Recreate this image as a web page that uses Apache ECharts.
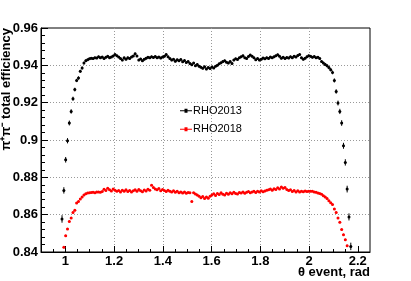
<!DOCTYPE html>
<html><head><meta charset="utf-8">
<script src="https://cdn.jsdelivr.net/npm/echarts@6/dist/echarts.min.js"></script>
<style>html,body{margin:0;padding:0;background:#fff}#c{width:411px;height:281px}</style>
</head><body><div id="c"></div>
<script>
// histogram binning (theta event, rad)
const binLow = 0.9;
const binWidth = 0.0075;

// RHO2013 efficiency, bins 11..169
const rho2013FirstBin = 11;
const rho2013 = [
  0.8577, 0.8730, 0.8894, 0.8996, 0.9091, 0.9153, 0.9221, 0.9270, 0.9319, 0.9332,
  0.9368, 0.9386, 0.9412, 0.9425, 0.9430, 0.9435, 0.9438, 0.9436, 0.9441, 0.9439,
  0.9446, 0.9440, 0.9444, 0.9437, 0.9443, 0.9448, 0.9441, 0.9445, 0.9450, 0.9458,
  0.9452, 0.9444, 0.9436, 0.9428, 0.9440, 0.9433, 0.9441, 0.9436, 0.9445, 0.9450,
  0.9462, 0.9450, 0.9428, 0.9434, 0.9424, 0.9432, 0.9438, 0.9443, 0.9440, 0.9446,
  0.9442, 0.9447, 0.9441, 0.9444, 0.9439, 0.9445, 0.9448, 0.9458, 0.9446, 0.9436,
  0.9428, 0.9433, 0.9422, 0.9430, 0.9425, 0.9431, 0.9419, 0.9426, 0.9415, 0.9420,
  0.9410, 0.9403, 0.9412, 0.9398, 0.9405, 0.9395, 0.9390, 0.9384, 0.9392, 0.9380,
  0.9388, 0.9383, 0.9391, 0.9386, 0.9395, 0.9400, 0.9408, 0.9414, 0.9420, 0.9425,
  0.9417, 0.9412, 0.9420, 0.9410, 0.9428, 0.9435, 0.9431, 0.9440, 0.9446, 0.9452,
  0.9441, 0.9436, 0.9447, 0.9455, 0.9448, 0.9440, 0.9430, 0.9436, 0.9428, 0.9432,
  0.9439, 0.9435, 0.9441, 0.9437, 0.9444, 0.9440, 0.9446, 0.9451, 0.9457, 0.9448,
  0.9438, 0.9443, 0.9436, 0.9442, 0.9439, 0.9446, 0.9441, 0.9449, 0.9445, 0.9453,
  0.9458, 0.9440, 0.9432, 0.9438, 0.9446, 0.9452, 0.9448, 0.9443, 0.9447, 0.9440,
  0.9443, 0.9436, 0.9421, 0.9412, 0.9405, 0.9398, 0.9388, 0.9377, 0.9362, 0.9319,
  0.9260, 0.9198, 0.9153, 0.9091, 0.8969, 0.8880, 0.8737, 0.8588, 0.8430
];
// RHO2013 errors in units of 1e-4
const rho2013ErrE4 = [
  20, 17, 15, 14, 13, 12, 11, 10, 9, 9, 8, 8, 7, 7,
  6, 6, 6, 6, 6, 6, 6, 6, 6, 6, 6, 6, 6, 6, 6, 6,
  6, 6, 6, 6, 6, 6, 6, 6, 6, 6, 6, 6, 6, 6, 6, 6,
  6, 6, 6, 6, 6, 6, 6, 6, 6, 6, 6, 6, 6, 6, 6, 6,
  6, 6, 6, 6, 6, 6, 6, 6, 6, 6, 6, 6, 6, 6, 6, 6,
  6, 6, 6, 6, 6, 6, 6, 6, 6, 6, 6, 6, 6, 6, 6, 6,
  6, 6, 6, 6, 6, 6, 6, 6, 6, 6, 6, 6, 6, 6, 6, 6,
  6, 6, 6, 6, 6, 6, 6, 6, 6, 6, 6, 6, 6, 6, 6, 6,
  6, 6, 6, 6, 6, 6, 6, 6, 6, 6, 6, 6, 6, 6, 6, 6,
  7, 7, 8, 8, 9, 9, 10, 11, 12, 13, 14, 15, 16, 17, 18, 19, 20
];

// RHO2018 efficiency, bins 12..167
const rho2018FirstBin = 12;
const rho2018 = [
  0.8425, 0.8487, 0.8523, 0.8564, 0.8582, 0.8612, 0.8623, 0.8662, 0.8671, 0.8684,
  0.8695, 0.8705, 0.8712, 0.8716, 0.8718, 0.8719, 0.8720, 0.8718, 0.8721, 0.8722,
  0.8720, 0.8724, 0.8736, 0.8730, 0.8741, 0.8733, 0.8727, 0.8738, 0.8731, 0.8725,
  0.8729, 0.8722, 0.8731, 0.8726, 0.8734, 0.8724, 0.8730, 0.8721, 0.8728, 0.8733,
  0.8725, 0.8735, 0.8728, 0.8723, 0.8732, 0.8727, 0.8736, 0.8731, 0.8758, 0.8745,
  0.8738, 0.8733, 0.8740, 0.8728, 0.8735, 0.8729, 0.8724, 0.8731, 0.8726, 0.8722,
  0.8728, 0.8720, 0.8725, 0.8718, 0.8722, 0.8716, 0.8721, 0.8715, 0.8719, 0.8717,
  0.8671, 0.8718, 0.8711, 0.8706, 0.8698, 0.8690, 0.8697, 0.8686, 0.8694, 0.8688,
  0.8699, 0.8705, 0.8712, 0.8703, 0.8714, 0.8708, 0.8717, 0.8710, 0.8706, 0.8715,
  0.8709, 0.8718, 0.8712, 0.8720, 0.8714, 0.8711, 0.8719, 0.8716, 0.8722, 0.8715,
  0.8720, 0.8724, 0.8717, 0.8722, 0.8726, 0.8719, 0.8725, 0.8721, 0.8728, 0.8723,
  0.8727, 0.8731, 0.8733, 0.8737, 0.8731, 0.8739, 0.8735, 0.8744, 0.8738, 0.8748,
  0.8742, 0.8746, 0.8735, 0.8729, 0.8733, 0.8724, 0.8730, 0.8722, 0.8728, 0.8721,
  0.8726, 0.8723, 0.8727, 0.8724, 0.8726, 0.8725, 0.8725, 0.8722, 0.8720, 0.8716,
  0.8713, 0.8709, 0.8702, 0.8694, 0.8686, 0.8675, 0.8664, 0.8654, 0.8630, 0.8612,
  0.8582, 0.8559, 0.8520, 0.8493, 0.8466, 0.8434
];
// RHO2018 errors in units of 1e-4
const rho2018ErrE4 = [
  5, 5, 5, 5, 5, 5, 5, 5, 5,
  3, 3, 3, 3, 3, 3, 3, 3, 3, 3, 3, 3, 3, 3, 3, 3, 3, 3, 3, 3,
  3, 3, 3, 3, 3, 3, 3, 3, 3, 3, 3, 3, 3, 3, 3, 3, 3, 3, 3, 3,
  3, 3, 3, 3, 3, 3, 3, 3, 3, 3, 3, 3, 3, 3, 3, 3, 3, 3, 3, 3,
  3, 3, 3, 3, 3, 3, 3, 3, 3, 3, 3, 3, 3, 3, 3, 3, 3, 3, 3, 3,
  3, 3, 3, 3, 3, 3, 3, 3, 3, 3, 3, 3, 3, 3, 3, 3, 3, 3, 3, 3,
  3, 3, 3, 3, 3, 3, 3, 3, 3, 3, 3, 3, 3, 3, 3, 3, 3, 3, 3, 3,
  3, 3, 3, 3, 3, 3, 3, 3, 3, 3, 3, 3, 3, 3,
  5, 5, 5, 5, 5, 5, 5, 5, 5, 5, 5, 5, 5
];

const xMajorTicks = [1.0, 1.2, 1.4, 1.6, 1.8, 2.0, 2.2];
const xMinorTicks = [0.95, 1.05, 1.1, 1.15, 1.25, 1.3, 1.35, 1.45, 1.5, 1.55, 1.65, 1.7, 1.75, 1.85, 1.9, 1.95, 2.05, 2.1, 2.15];
const seriesNames = ['RHO2013', 'RHO2018'];
const xTitle = 'θ event, rad';
const yTitle = 'π⁺π⁻ total efficiency';

function toPoints(firstBin, vals, errE4) {
  return vals.map((v, i) => {
    const x = binLow + (firstBin + i + 0.5) * binWidth;
    return [x, v, errE4[i] * 1e-4];
  });
}
const pts2013 = toPoints(rho2013FirstBin, rho2013, rho2013ErrE4);
const pts2018 = toPoints(rho2018FirstBin, rho2018, rho2018ErrE4);

function errRender(color) {
  return function (params, api) {
    const x = api.value(0), y = api.value(1), e = api.value(2);
    const lo = api.coord([x, y - e]), hi = api.coord([x, y + e]);
    const l = api.coord([x - binWidth / 2, y]), r = api.coord([x + binWidth / 2, y]);
    return {
      type: 'group',
      children: [
        { type: 'line', shape: { x1: lo[0], y1: lo[1], x2: hi[0], y2: hi[1] }, style: { stroke: color, lineWidth: 1 } },
        { type: 'line', shape: { x1: l[0], y1: l[1], x2: r[0], y2: r[1] }, style: { stroke: color, lineWidth: 1 } }
      ]
    };
  };
}

const FONT = 'Liberation Sans';
function textWidth(str, font) {
  const ctx = document.createElement('canvas').getContext('2d');
  ctx.font = font;
  return ctx.measureText(str).width;
}
const titleFont = 'bold 13px "' + FONT + '"';
const xTitleW = textWidth(xTitle, titleFont);
const yTitleW = textWidth(yTitle, titleFont);

const legIcon = 'path://M0,2 L12,2 L12,3 L0,3 Z M4.5,0.5 L7.5,0.5 L7.5,4.5 L4.5,4.5 Z';
function legendFor(name, top) {
  return {
    data: [{ name: name, icon: legIcon }],
    left: 180, top: top, padding: 0, orient: 'vertical',
    itemWidth: 12, itemHeight: 5, selectedMode: false,
    textStyle: { fontSize: 11, fontFamily: FONT, color: '#000', padding: [0, 0, 0, -4] }
  };
}

const chart = echarts.init(document.getElementById('c'), null, { renderer: 'canvas' });
chart.setOption({
  animation: false,
  backgroundColor: '#fff',
  textStyle: { fontFamily: FONT },
  grid: { left: 41, right: 41, top: 28, bottom: 29, show: true, borderColor: '#000', borderWidth: 1, backgroundColor: 'transparent', containLabel: false, outerBoundsMode: 'none' },
  legend: [legendFor(seriesNames[0], 105.2), legendFor(seriesNames[1], 123.8)],
  xAxis: [{
    type: 'value', min: 0.9, max: 2.25, position: 'bottom',
    axisLine: { show: true, onZero: false, lineStyle: { color: '#000' } },
    axisTick: { show: true, inside: true, length: 6, customValues: xMajorTicks, lineStyle: { color: '#000' } },
    axisLabel: { customValues: xMajorTicks, margin: 3, fontSize: 13, fontWeight: 'bold', color: '#000', fontFamily: FONT },
    splitLine: { show: true, showMinLine: false, showMaxLine: false, lineStyle: { color: '#999', type: [1, 2] } },
    name: xTitle, nameLocation: 'end', nameGap: -xTitleW, nameMoveOverlap: false,
    nameTextStyle: { fontSize: 13, fontWeight: 'bold', color: '#000', fontFamily: FONT, align: 'left', verticalAlign: 'top', padding: [14, 0, 0, 0] }
  }, {
    type: 'value', min: 0.9, max: 2.25, position: 'bottom', gridIndex: 0,
    axisLine: { show: false },
    axisTick: { show: true, inside: true, length: 3, customValues: xMinorTicks, lineStyle: { color: '#000' } },
    axisLabel: { show: false },
    splitLine: { show: false }
  }],
  yAxis: {
    type: 'value', min: 0.84, max: 0.96, interval: 0.02,
    axisLine: { show: true, onZero: false, lineStyle: { color: '#000' } },
    axisTick: { show: true, inside: true, length: 7, lineStyle: { color: '#000' } },
    minorTick: { show: true, splitNumber: 5, length: 4, lineStyle: { color: '#000' } },
    axisLabel: { margin: 3, fontSize: 13, fontWeight: 'bold', color: '#000', fontFamily: FONT },
    splitLine: { show: true, showMinLine: false, showMaxLine: false, lineStyle: { color: '#999', type: [1, 2] } },
    name: yTitle, nameLocation: 'end', nameRotate: 90, nameGap: -yTitleW, nameMoveOverlap: false,
    nameTextStyle: { fontSize: 13, fontWeight: 'bold', color: '#000', fontFamily: FONT, align: 'left', verticalAlign: 'bottom', padding: [0, 0, 28, 0] }
  },
  series: [
    { name: 'RHO2013 errors', type: 'custom', xAxisIndex: 0, yAxisIndex: 0, renderItem: errRender('#000'), data: pts2013, encode: { x: 0, y: 1 }, clip: true, silent: true },
    { name: 'RHO2018 errors', type: 'custom', xAxisIndex: 0, yAxisIndex: 0, renderItem: errRender('#ff0000'), data: pts2018, encode: { x: 0, y: 1 }, clip: true, silent: true },
    { name: seriesNames[0], type: 'scatter', xAxisIndex: 0, symbol: 'circle', symbolSize: 3, itemStyle: { color: '#000', opacity: 1 }, data: pts2013.map(p => [p[0], p[1]]), clip: true },
    { name: seriesNames[1], type: 'scatter', xAxisIndex: 0, symbol: 'circle', symbolSize: 3, itemStyle: { color: '#ff0000', opacity: 1 }, data: pts2018.map(p => [p[0], p[1]]), clip: true }
  ]
});
</script>
</body></html>
